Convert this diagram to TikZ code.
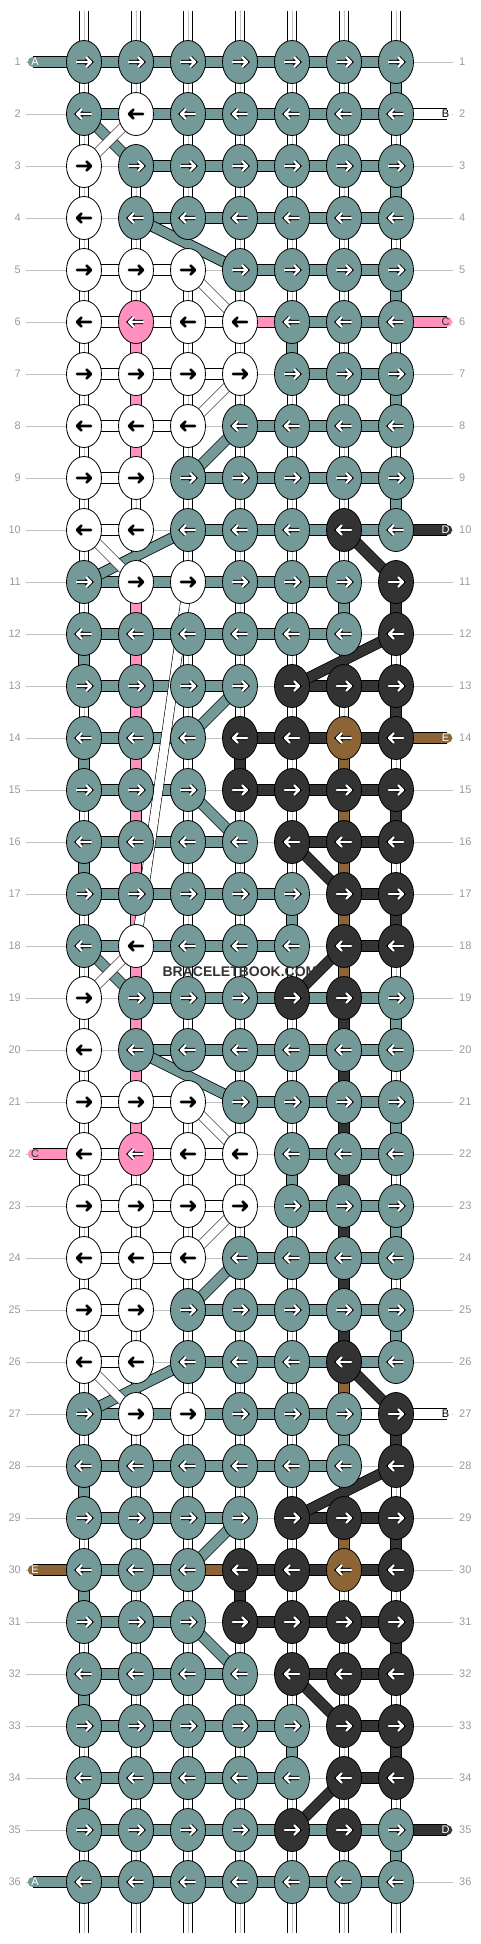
\documentclass[tikz,border=0pt]{standalone}
\usepackage{fontspec}
\setmainfont{Liberation Sans}
\usetikzlibrary{shapes.geometric}
\pgfdeclarelayer{bg}
\pgfdeclarelayer{mid}
\pgfsetlayers{bg,mid,main}
\definecolor{kT}{HTML}{739A98}
\definecolor{kW}{HTML}{FFFFFF}
\definecolor{kP}{HTML}{FF90C0}
\definecolor{kD}{HTML}{333333}
\definecolor{kB}{HTML}{8C6436}
\definecolor{numgray}{HTML}{9A9A9A}
\definecolor{linegray}{HTML}{C0C0C0}

\begin{document}
\begin{tikzpicture}[x=1pt,y=-1pt,
  knot/.style={draw, ellipse, line width=0.8pt, minimum width=35pt, minimum height=43pt, inner sep=0pt},
  arwT/.style={white, line width=2.4pt, preaction={draw=black, line width=4.2pt}},
  arwP/.style={arwT}, arwD/.style={arwT}, arwB/.style={arwT},
  arwW/.style={black, line width=2.7pt},
  bandT/.style={draw=kT, line width=9.6pt, preaction={draw=black, line width=11.2pt}},
  bandP/.style={draw=kP, line width=9.6pt, preaction={draw=black, line width=11.2pt}},
  bandD/.style={draw=kD, line width=9.6pt, preaction={draw=black, line width=11.2pt}},
  bandB/.style={draw=kB, line width=9.6pt, preaction={draw=black, line width=11.2pt}},
  bandW/.style={draw=white, line width=9.6pt, preaction={draw=black, line width=11.2pt}},
  bandn/.style={},
  vsT/.style={bandT}, vsP/.style={bandP}, vsD/.style={bandD}, vsB/.style={bandB},
  vsW/.style={draw=white, line width=8.8pt, preaction={draw=black, line width=10.4pt},
    postaction={draw=black!22, line width=0.6pt}},
  vsn/.style={},
  dgT/.style={bandT}, dgD/.style={bandD},
  dgW/.style={draw=white, line width=8.6pt, preaction={draw=black, line width=9.8pt}},
  stub/.style={vsW, line cap=round},
  rowline/.style={draw=linegray, line width=0.8pt},
  num/.style={text=numgray, font=\fontsize{11}{11}\selectfont, inner sep=0pt},
  sidelbl/.style={font=\fontsize{11}{11}\selectfont, inner sep=0pt}]
\useasboundingbox (0,0) rectangle (480,1944);

% knots, row by row
\foreach \kr [count=\ri] in {
  {T,T,T,T,T,T,T},{T,W,T,T,T,T,T},{W,T,T,T,T,T,T},{W,T,T,T,T,T,T},
  {W,W,W,T,T,T,T},{W,P,W,W,T,T,T},{W,W,W,W,T,T,T},{W,W,W,T,T,T,T},
  {W,W,T,T,T,T,T},{W,W,T,T,T,D,T},{T,W,W,T,T,T,D},{T,T,T,T,T,T,D},
  {T,T,T,T,D,D,D},{T,T,T,D,D,B,D},{T,T,T,D,D,D,D},{T,T,T,T,D,D,D},
  {T,T,T,T,T,D,D},{T,W,T,T,T,D,D},{W,T,T,T,D,D,T},{W,T,T,T,T,T,T},
  {W,W,W,T,T,T,T},{W,P,W,W,T,T,T},{W,W,W,W,T,T,T},{W,W,W,T,T,T,T},
  {W,W,T,T,T,T,T},{W,W,T,T,T,D,T},{T,W,W,T,T,T,D},{T,T,T,T,T,T,D},
  {T,T,T,T,D,D,D},{T,T,T,D,D,B,D},{T,T,T,D,D,D,D},{T,T,T,T,D,D,D},
  {T,T,T,T,T,D,D},{T,T,T,T,T,D,D},{T,T,T,T,D,D,T},{T,T,T,T,T,T,T}} {
  \pgfmathsetmacro\yy{62+52*(\ri-1)}
  \pgfmathsetmacro\sdir{ifthenelse(mod(\ri,2)==1,1,-1)}
  \foreach \kc [count=\ci] in \kr {
    \pgfmathsetmacro\xx{84+52*(\ci-1)}
    \node[knot, fill=k\kc] (k\ri-\ci) at (\xx,\yy) {};
    \draw[arw\kc, line cap=round, line join=round, shift={(\xx,\yy)}, xscale=\sdir]
      (-7,0) -- (7,0) (2.5,-4.5) -- (7,0) -- (2.5,4.5);
  }
}

\begin{pgfonlayer}{bg}
% row guide lines and numbers
\foreach \ri in {1,...,36} {
  \pgfmathsetmacro\yy{62+52*(\ri-1)}
  \draw[rowline] (26,\yy) -- (453,\yy);
  \node[num, anchor=east] (ln\ri) at (21,\yy) {\ri};
  \node[num, anchor=west] (rn\ri) at (459,\yy) {\ri};
}
% loose ends top and bottom
\foreach \ci in {1,...,7} {
  \pgfmathsetmacro\xx{84+52*(\ci-1)}
  \coordinate (top\ci) at (\xx,10.5);
  \coordinate (bot\ci) at (\xx,1932.5);
  \draw[stub] (top\ci) -- (k1-\ci.center);
  \draw[stub] (k36-\ci.center) -- (bot\ci);
}
% vertical strings
\foreach \vr [count=\ri] in {
  {W,W,W,W,W,W,T},{W,n,W,W,W,W,W},{W,W,W,W,W,W,T},{W,W,n,W,W,W,W},
  {W,W,W,W,W,W,T},{W,P,W,W,T,W,W},{W,P,W,W,W,W,T},{W,P,W,W,W,W,W},
  {W,W,W,W,W,W,T},{W,W,W,W,W,W,n},{W,P,n,W,W,T,D},{T,P,W,W,W,W,W},
  {W,P,W,W,W,W,D},{T,P,W,D,W,B,W},{W,P,W,W,W,B,D},{T,P,W,W,W,B,W},
  {W,P,W,W,T,B,D},{W,P,W,W,W,B,W},{W,P,W,W,W,D,T},{W,P,n,W,W,D,W},
  {W,P,W,W,W,D,T},{W,W,W,W,T,D,W},{W,W,W,W,W,D,T},{W,W,W,W,W,D,W},
  {W,W,W,W,W,D,T},{W,W,W,W,W,B,n},{W,W,W,W,W,T,D},{T,W,W,W,W,W,W},
  {W,W,W,W,W,B,D},{T,W,W,D,W,W,W},{W,W,W,W,W,W,D},{T,W,W,W,W,W,W},
  {W,W,W,W,T,W,D},{T,W,W,W,W,W,W},{W,W,W,W,W,W,T}} {
  \pgfmathtruncatemacro\nr{\ri+1}
  \foreach \vc [count=\ci] in \vr {
    \path[vs\vc] (k\ri-\ci.center) -- (k\nr-\ci.center);
  }
}
% horizontal strings
\foreach \hr [count=\ri] in {
  {T,T,T,T,T,T},{T,T,T,T,T,T},{n,T,T,T,T,T},{n,T,T,T,T,T},
  {W,W,n,T,T,T},{W,W,W,P,T,T},{W,W,W,n,T,T},{W,W,n,T,T,T},
  {W,n,T,T,T,T},{W,n,T,T,T,T},{T,T,T,T,T,n},{T,T,T,T,T,n},
  {T,T,T,n,D,D},{T,T,n,D,D,D},{T,T,n,D,D,D},{T,T,T,n,D,D},
  {T,T,T,T,n,D},{T,T,T,T,n,D},{n,T,T,T,T,T},{n,T,T,T,T,T},
  {W,W,n,T,T,T},{W,W,W,n,T,T},{W,W,W,n,T,T},{W,W,n,T,T,T},
  {W,n,T,T,T,T},{W,n,T,T,T,T},{T,T,T,T,T,W},{T,T,T,T,T,n},
  {T,T,T,n,D,D},{T,T,B,D,D,D},{T,T,n,D,D,D},{T,T,T,n,D,D},
  {T,T,T,T,n,D},{T,T,T,T,n,D},{T,T,T,T,T,T},{T,T,T,T,T,T}} {
  \foreach \hc [count=\ci] in \hr {
    \pgfmathtruncatemacro\nc{\ci+1}
    \path[band\hc] (k\ri-\ci.center) -- (k\ri-\nc.center);
  }
}
% strings coming in at the sides
\foreach \ri/\ci/\xe/\lx/\sc/\txt/\tc in {
  1/1/32.6/35/T/A/white, 22/1/32.6/35/P/C/kD, 30/1/32.6/35/B/E/white,
  36/1/32.6/35/T/A/white, 2/7/447.4/445.5/W/B/black, 6/7/447.4/445.5/P/C/kD,
  10/7/447.4/445.5/D/D/white, 14/7/447.4/445.5/B/E/white,
  27/7/447.4/445.5/W/B/black, 35/7/447.4/445.5/D/D/white} {
  \pgfmathsetmacro\yy{62+52*(\ri-1)}
  \coordinate (end\ri) at (\xe,\yy);
  \path[band\sc, line cap=round] (end\ri) -- (k\ri-\ci.center);
  \node[sidelbl, text=\tc] (lbl\ri) at (\lx,\yy) {\txt};
}
\end{pgfonlayer}

\begin{pgfonlayer}{mid}
% strings that jump between rows
\foreach \ra/\ca/\rb/\cb/\dg in {
  2/1/3/2/T, 4/2/5/4/T, 8/4/9/3/T, 10/3/11/1/T, 13/4/14/3/T, 15/3/16/4/T,
  18/1/19/2/T, 20/2/21/4/T, 24/4/25/3/T, 26/3/27/1/T, 29/4/30/3/T, 31/3/32/4/T,
  10/6/11/7/D, 12/7/13/5/D, 16/5/17/6/D, 18/6/19/5/D, 26/6/27/7/D, 28/7/29/5/D,
  32/5/33/6/D, 34/6/35/5/D,
  2/2/3/1/W, 5/3/6/4/W, 7/4/8/3/W, 10/1/11/2/W, 11/3/18/2/W, 18/2/19/1/W,
  21/3/22/4/W, 23/4/24/3/W, 26/1/27/2/W} {
  \path[dg\dg] (k\ra-\ca.center) -- (k\rb-\cb.center);
}
\end{pgfonlayer}

\node[font=\bfseries\fontsize{14}{14}\selectfont, text=black!80] (mark) at (240,972) {BRACELETBOOK.COM};
\end{tikzpicture}
\end{document}
